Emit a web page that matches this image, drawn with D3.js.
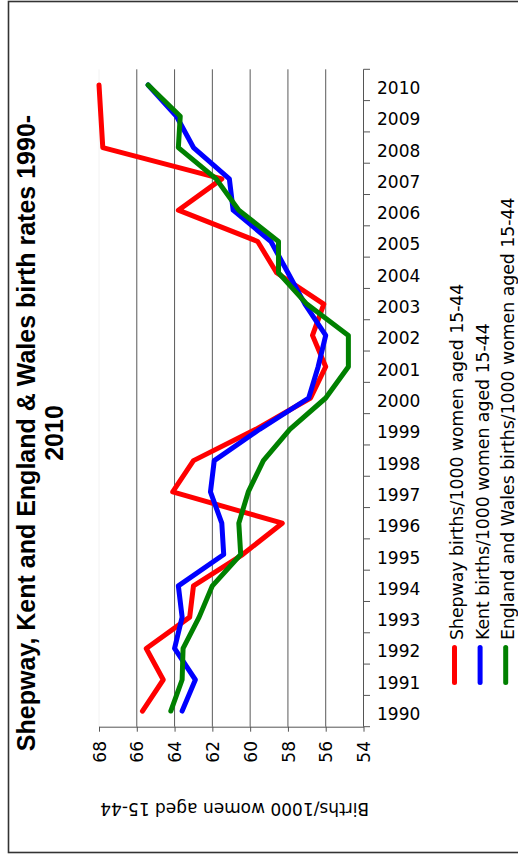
<!DOCTYPE html>
<html>
<head>
<meta charset="utf-8">
<script src="https://cdn.jsdelivr.net/npm/d3@7"></script>
<style>
  body { margin: 0; background: #fff; }
  svg { display: block; }
</style>
</head>
<body>
<svg id="chart" width="518" height="854"></svg>
<script>
// Birth rates per 1000 women aged 15-44, 1990-2010
const years = [1990, 1991, 1992, 1993, 1994, 1995, 1996, 1997, 1998, 1999, 2000,
               2001, 2002, 2003, 2004, 2005, 2006, 2007, 2008, 2009, 2010];
const shepway = [65.7, 64.6, 65.5, 63.2, 63.0, 60.4, 58.3, 64.1, 63.0, 59.7, 56.8,
                 56.0, 56.7, 56.1, 58.6, 59.6, 63.8, 61.5, 67.8, 67.9, 68.0];
const kent = [63.6, 62.9, 64.0, 63.6, 63.8, 61.4, 61.5, 62.1, 61.9, 59.5, 56.9,
              56.4, 56.0, 57.1, 58.0, 58.9, 60.9, 61.1, 63.0, 63.9, 65.4];
const englandWales = [64.2, 63.6, 63.55, 62.7, 62.0, 60.5, 60.6, 60.1, 59.3, 57.9, 56.0,
                      54.8, 54.8, 57.0, 58.5, 58.5, 60.6, 61.8, 63.8, 63.7, 65.4];
const valueTicks = [68, 66, 64, 62, 60, 58, 56, 54];
const seriesNames = [
  "Shepway births/1000 women aged 15-44",
  "Kent births/1000 women aged 15-44",
  "England and Wales births/1000 women aged 15-44"
];
const seriesColors = ["#ff0000", "#0000ff", "#008000"];
const titleLines = ["Shepway, Kent and England & Wales birth rates 1990-", "2010"];
const valueAxisTitle = "Births/1000 women aged 15-44";

const series = [shepway, kent, englandWales].map((vals, i) => ({
  name: seriesNames[i],
  color: seriesColors[i],
  points: years.map((yr, j) => ({ year: yr, value: vals[j] }))
}));

// The chart is laid out sideways: values run along x (high on the left),
// years run down the page with the latest year at the top.
const svg = d3.select("#chart");
const plot = { left: 99, right: 363.5, top: 69.3, bottom: 726.7 };
const textFont = "'DejaVu Sans', Verdana, sans-serif";

const x = d3.scaleLinear().domain([68, 54]).range([plot.left, plot.right]);
const y = d3.scaleBand().domain(years.slice().reverse()).range([plot.top, plot.bottom]).padding(0);
const yMid = yr => y(yr) + y.bandwidth() / 2;

// outer frame (its right side runs off the page)
svg.append("rect")
  .attr("x", 8.5).attr("y", 1.5).attr("width", 512).attr("height", 851)
  .attr("fill", "#fff").attr("stroke", "#333").attr("stroke-width", 1.6);

// gridlines
svg.append("g").selectAll("line")
  .data(valueTicks.filter(v => v !== 54))
  .join("line")
  .attr("x1", d => x(d)).attr("x2", d => x(d))
  .attr("y1", plot.top).attr("y2", plot.bottom)
  .attr("stroke", d => d === 68 ? "#f2f2f2" : "#5a5a5a")
  .attr("stroke-width", 1);

// value axis along the bottom of the plot
const valueAxis = svg.append("g")
  .attr("transform", `translate(0,${plot.bottom})`)
  .call(d3.axisBottom(x).tickValues(valueTicks).tickSize(5).tickSizeOuter(0).tickFormat(d3.format("d")));
valueAxis.select(".domain").attr("stroke", "#555");
valueAxis.selectAll(".tick line").attr("stroke", "#555");
valueAxis.selectAll(".tick text")
  .attr("transform", "rotate(-90)")
  .attr("x", -14.3).attr("y", 0).attr("dy", "0.36em")
  .attr("text-anchor", "end")
  .attr("fill", "#000")
  .style("font-family", textFont).style("font-size", "17px");

// year axis along the right of the plot, ticks between categories
const yearAxis = svg.append("g").attr("transform", `translate(${plot.right},0)`);
yearAxis.append("line")
  .attr("x1", 0).attr("x2", 0).attr("y1", plot.top).attr("y2", plot.bottom)
  .attr("stroke", "#555");
const boundaries = years.map(yr => y(yr)).concat([plot.bottom]);
yearAxis.selectAll(".ytick").data(boundaries).join("line")
  .attr("class", "ytick")
  .attr("x1", 0).attr("x2", 6.5)
  .attr("y1", d => d).attr("y2", d => d)
  .attr("stroke", "#555");
yearAxis.selectAll(".ylabel").data(years).join("text")
  .attr("class", "ylabel")
  .attr("x", 13.5).attr("y", d => yMid(d) + 9)
  .style("font-family", textFont).style("font-size", "17px")
  .attr("fill", "#000")
  .text(d => d);

// series lines
const line = d3.line().x(d => x(d.value)).y(d => yMid(d.year));
svg.append("g").selectAll("path").data(series).join("path")
  .attr("d", d => line(d.points))
  .attr("fill", "none")
  .attr("stroke", d => d.color)
  .attr("stroke-width", 5)
  .attr("stroke-linejoin", "round")
  .attr("stroke-linecap", "round");

// title
svg.append("g").selectAll("text").data(titleLines).join("text")
  .attr("transform", (d, i) => `translate(${35 + i * 28.3},433) rotate(-90)`)
  .attr("text-anchor", "middle")
  .style("font-family", "'Liberation Sans', Arial, sans-serif")
  .style("font-weight", "bold").style("font-size", "25px")
  .attr("fill", "#000")
  .text(d => d);

// value axis title, turned with the chart
svg.append("text")
  .attr("transform", `translate(${(plot.left + plot.right) / 2 + 3.4},802.7) rotate(180)`)
  .attr("text-anchor", "middle")
  .style("font-family", textFont).style("font-size", "17px")
  .attr("fill", "#000")
  .text(valueAxisTitle);

// legend
const legend = svg.append("g").selectAll("g").data(series).join("g")
  .attr("transform", (d, i) => `translate(${454.5 + i * 25.6},0)`);
legend.append("line")
  .attr("x1", 0).attr("x2", 0).attr("y1", 647.5).attr("y2", 682.5)
  .attr("stroke", d => d.color).attr("stroke-width", 5).attr("stroke-linecap", "round");
legend.append("text")
  .attr("transform", "translate(8.6,640) rotate(-90)")
  .attr("text-anchor", "start")
  .style("font-family", textFont).style("font-size", "17.3px")
  .attr("fill", "#000")
  .text(d => d.name);
</script>
</body>
</html>
